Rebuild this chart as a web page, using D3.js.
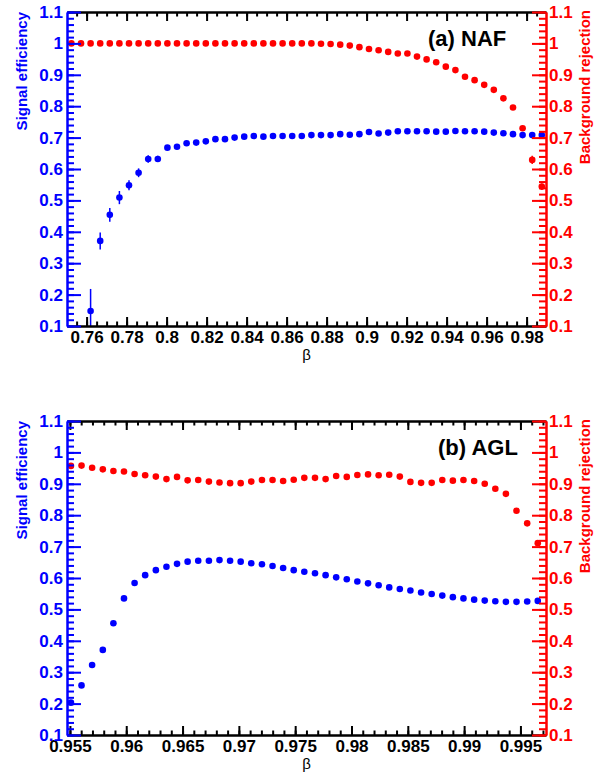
<!DOCTYPE html>
<html>
<head>
<meta charset="utf-8">
<script src="https://cdn.jsdelivr.net/npm/d3@7"></script>
<style>
  body { margin: 0; background: #fff; }
  svg { display: block; font-family: "Liberation Sans", Arial, Helvetica, sans-serif; }
</style>
</head>
<body>
<svg id="chart" width="606" height="778"></svg>
<script>
// ---- (a) NAF ----
var nafBeta = [0.7524, 0.7572, 0.7620, 0.7668, 0.7716, 0.7764, 0.7812, 0.7860, 0.7908, 0.7956,
  0.8004, 0.8052, 0.8100, 0.8148, 0.8196, 0.8244, 0.8292, 0.8340, 0.8388, 0.8436,
  0.8484, 0.8532, 0.8580, 0.8628, 0.8676, 0.8724, 0.8772, 0.8820, 0.8868, 0.8916,
  0.8964, 0.9012, 0.9060, 0.9108, 0.9156, 0.9204, 0.9252, 0.9300, 0.9348, 0.9396,
  0.9444, 0.9492, 0.9540, 0.9588, 0.9636, 0.9684, 0.9732, 0.9780, 0.9828, 0.9876];
var nafEff = [null, null, 0.148, 0.371, 0.454, 0.509, 0.548, 0.588, 0.632, 0.632,
  0.668, 0.671, 0.682, 0.684, 0.688, 0.695, 0.695, 0.700, 0.703, 0.705,
  0.703, 0.705, 0.705, 0.705, 0.705, 0.708, 0.708, 0.708, 0.711, 0.709,
  0.711, 0.718, 0.713, 0.716, 0.720, 0.720, 0.720, 0.720, 0.719, 0.719,
  0.721, 0.720, 0.720, 0.719, 0.716, 0.714, 0.711, 0.708, 0.708, 0.708];
var nafEffErr = [0, 0, 0.07, 0.027, 0.022, 0.021, 0.016, 0.014, 0.012, 0.010,
  0.008, 0.007, 0.006, 0.006, 0.005, 0.005, 0.005, 0.005, 0.005, 0.005,
  0.005, 0.005, 0.005, 0.005, 0.005, 0.005, 0.005, 0.005, 0.005, 0.005,
  0.005, 0.005, 0.005, 0.005, 0.005, 0.005, 0.005, 0.005, 0.005, 0.005,
  0.005, 0.005, 0.005, 0.005, 0.005, 0.005, 0.005, 0.005, 0.005, 0.005];
var nafRej = [1.000, 1.000, 1.000, 1.000, 1.000, 1.000, 1.000, 1.000, 1.000, 1.000,
  1.000, 1.000, 1.000, 1.000, 1.000, 1.000, 1.000, 1.000, 1.000, 1.000,
  1.000, 1.000, 1.000, 1.000, 1.000, 1.000, 0.999, 0.998, 0.996, 0.993,
  0.988, 0.982, 0.978, 0.973, 0.968, 0.968, 0.958, 0.949, 0.940, 0.926,
  0.915, 0.894, 0.883, 0.868, 0.852, 0.825, 0.796, 0.730, 0.629, 0.544];
var nafRejErr = [0, 0, 0, 0, 0, 0, 0, 0, 0, 0, 0, 0, 0, 0, 0, 0, 0, 0, 0, 0,
  0, 0, 0, 0, 0, 0, 0, 0, 0, 0, 0, 0, 0, 0, 0, 0, 0, 0, 0, 0,
  0, 0, 0, 0, 0, 0, 0.004, 0.006, 0.013, 0.010];
var nafXTicks = [0.76, 0.78, 0.80, 0.82, 0.84, 0.86, 0.88, 0.90, 0.92, 0.94, 0.96, 0.98];

// ---- (b) AGL ----
var aglBeta = [0.95509, 0.95603, 0.95697, 0.95792, 0.95886, 0.95980, 0.96074, 0.96168, 0.96263, 0.96357,
  0.96451, 0.96545, 0.96639, 0.96734, 0.96828, 0.96922, 0.97016, 0.97110, 0.97205, 0.97299,
  0.97393, 0.97487, 0.97581, 0.97676, 0.97770, 0.97864, 0.97958, 0.98052, 0.98147, 0.98241,
  0.98335, 0.98429, 0.98523, 0.98618, 0.98712, 0.98806, 0.98900, 0.98994, 0.99089, 0.99183,
  0.99277, 0.99371, 0.99465, 0.99560, 0.99654];
var aglEff = [0.203, 0.258, 0.323, 0.371, 0.456, 0.535, 0.584, 0.609, 0.625, 0.636,
  0.645, 0.652, 0.655, 0.655, 0.657, 0.655, 0.652, 0.647, 0.644, 0.638,
  0.632, 0.625, 0.620, 0.615, 0.609, 0.602, 0.596, 0.589, 0.583, 0.577,
  0.570, 0.565, 0.560, 0.554, 0.549, 0.544, 0.539, 0.535, 0.531, 0.528,
  0.526, 0.524, 0.524, 0.525, 0.527];
var aglRej = [0.957, 0.958, 0.951, 0.946, 0.941, 0.939, 0.931, 0.927, 0.923, 0.915,
  0.922, 0.911, 0.912, 0.907, 0.904, 0.902, 0.902, 0.907, 0.912, 0.912,
  0.909, 0.913, 0.919, 0.919, 0.915, 0.925, 0.922, 0.928, 0.930, 0.927,
  0.929, 0.923, 0.906, 0.903, 0.903, 0.912, 0.910, 0.912, 0.909, 0.900,
  0.884, 0.868, 0.814, 0.774, 0.711];
var aglXTicks = [0.955, 0.960, 0.965, 0.970, 0.975, 0.980, 0.985, 0.990, 0.995];

var yTicks = [0.1, 0.2, 0.3, 0.4, 0.5, 0.6, 0.7, 0.8, 0.9, 1.0, 1.1];

var BLUE = "#0000ff", RED = "#ff0000";
var svg = d3.select("#chart");
var left = 67, width = 546 - 67, height = 314;

function fmt(d) { return String(+d.toFixed(4)); }

function drawPanel(p) {
  var g = svg.append("g").attr("transform", "translate(" + left + "," + p.top + ")");
  var x = d3.scaleLinear().domain(p.xDomain).range([0, width]);
  var y = d3.scaleLinear().domain([0.1, 1.1]).range([height, 0]);

  g.append("clipPath").attr("id", "clip" + p.id)
    .append("rect").attr("width", width).attr("height", height);

  var plot = g.append("g").attr("clip-path", "url(#clip" + p.id + ")");

  function series(beta, vals, errs, color) {
    var pts = beta.map(function(b, i) { return {b: b, v: vals[i], e: errs ? errs[i] : 0}; })
      .filter(function(d) { return d.v != null; });
    plot.selectAll(null).data(pts.filter(function(d) { return d.e > 0; }))
      .enter().append("line")
      .attr("x1", function(d) { return x(d.b); })
      .attr("x2", function(d) { return x(d.b); })
      .attr("y1", function(d) { return y(d.v - d.e); })
      .attr("y2", function(d) { return y(d.v + d.e); })
      .attr("stroke", color).attr("stroke-width", 1.5);
    plot.selectAll(null).data(pts)
      .enter().append("circle")
      .attr("cx", function(d) { return x(d.b); })
      .attr("cy", function(d) { return y(d.v); })
      .attr("r", 3.3)
      .attr("fill", color);
  }
  series(p.beta, p.rej, p.rejErr, RED);
  series(p.beta, p.eff, p.effErr, BLUE);

  function style(sel, color) {
    sel.select(".domain").attr("stroke", color).attr("stroke-width", 2);
    sel.selectAll(".tick line").attr("stroke", color).attr("stroke-width", 2);
    sel.selectAll(".tick text").attr("fill", color)
      .style("font-size", "17px").style("font-weight", "bold");
  }

  // x axes (black), ticks pointing inward
  g.append("g").attr("transform", "translate(0," + height + ")")
    .call(d3.axisBottom(x).tickValues(p.xMinor).tickSizeInner(-4.5).tickSizeOuter(0).tickFormat(""))
    .call(style, "#000");
  g.append("g").attr("transform", "translate(0," + height + ")")
    .call(d3.axisBottom(x).tickValues(p.xTicks).tickSizeInner(-9).tickSizeOuter(0).tickPadding(5).tickFormat(fmt))
    .call(style, "#000");
  g.append("g")
    .call(d3.axisTop(x).tickValues(p.xMinor).tickSizeInner(-4.5).tickSizeOuter(0).tickFormat(""))
    .call(style, "#000");
  g.append("g")
    .call(d3.axisTop(x).tickValues(p.xTicks).tickSizeInner(-9).tickSizeOuter(0).tickFormat(""))
    .call(style, "#000");

  var yMinor = d3.range(5, 56).map(function(k) { return k * 0.02; });

  // left axis (blue)
  g.append("g")
    .call(d3.axisLeft(y).tickValues(yMinor).tickSizeInner(-7).tickSizeOuter(0).tickFormat(""))
    .call(style, BLUE);
  g.append("g")
    .call(d3.axisLeft(y).tickValues(yTicks).tickSizeInner(-14).tickSizeOuter(0).tickPadding(4).tickFormat(fmt))
    .call(style, BLUE);

  // right axis (red)
  g.append("g").attr("transform", "translate(" + width + ",0)")
    .call(d3.axisRight(y).tickValues(yMinor).tickSizeInner(-7).tickSizeOuter(0).tickFormat(""))
    .call(style, RED);
  g.append("g").attr("transform", "translate(" + width + ",0)")
    .call(d3.axisRight(y).tickValues(yTicks).tickSizeInner(-14).tickSizeOuter(0).tickPadding(3).tickFormat(fmt))
    .call(style, RED);

  // axis titles
  svg.append("text")
    .attr("transform", "translate(27," + p.top + ") rotate(-90)")
    .attr("text-anchor", "end")
    .attr("fill", BLUE).style("font-size", "15px").style("font-weight", "bold")
    .text("Signal efficiency");
  svg.append("text")
    .attr("transform", "translate(590," + (p.top - 2) + ") rotate(-90)")
    .attr("text-anchor", "end")
    .attr("fill", RED).style("font-size", "15px").style("font-weight", "bold")
    .text("Background rejection");
  svg.append("text")
    .attr("x", left + width / 2).attr("y", p.top + height + 34)
    .attr("text-anchor", "middle")
    .style("font-size", "15px")
    .text("β");

  // panel label
  svg.append("text")
    .attr("x", p.labelX).attr("y", p.top + 34)
    .style("font-size", "22px").style("font-weight", "bold")
    .text(p.label);
}

drawPanel({
  id: "a", top: 12, xDomain: [0.7502, 0.9897],
  beta: nafBeta, eff: nafEff, effErr: nafEffErr, rej: nafRej, rejErr: nafRejErr,
  xTicks: nafXTicks,
  xMinor: d3.range(151, 198).map(function(k) { return k * 0.005; }),
  label: "(a) NAF", labelX: 428
});

drawPanel({
  id: "b", top: 421, xDomain: [0.95474, 0.99727],
  beta: aglBeta, eff: aglEff, effErr: null, rej: aglRej, rejErr: null,
  xTicks: aglXTicks,
  xMinor: d3.range(955, 998).map(function(k) { return k / 1000; }),
  label: "(b) AGL", labelX: 438
});
</script>
</body>
</html>
